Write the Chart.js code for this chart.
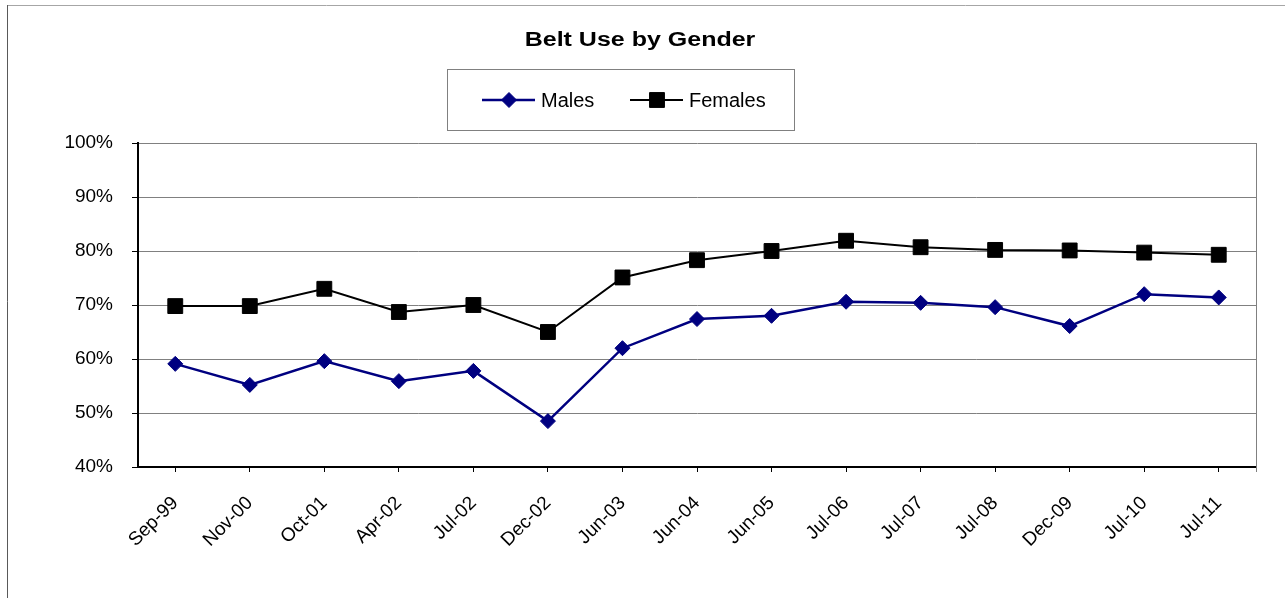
<!DOCTYPE html>
<html><head><meta charset="utf-8">
<script src="https://cdn.jsdelivr.net/npm/chart.js@4/dist/chart.umd.min.js"></script>
<style>html,body{margin:0;padding:0;background:#fff}#wrap{width:1285px;height:598px;position:relative}</style>
</head><body><div id="wrap"><canvas id="c"></canvas></div>
<script>
const categories = ['Sep-99','Nov-00','Oct-01','Apr-02','Jul-02','Dec-02','Jun-03','Jun-04','Jun-05','Jul-06','Jul-07','Jul-08','Dec-09','Jul-10','Jul-11'];
const males   = [59.1,55.2,59.6,55.9,57.8,48.5,62.0,67.4,68.0,70.6,70.4,69.6,66.1,72.0,71.4];
const females = [69.8,69.8,73.0,68.7,70.0,65.0,75.1,78.3,80.0,81.9,80.7,80.2,80.1,79.7,79.3];
const yTicks  = [40,50,60,70,80,90,100];
const chartTitle = 'Belt Use by Gender';
const seriesNames = ['Males','Females'];

const FONT = "'Liberation Sans', Arial, sans-serif";

const decor = {
  id: 'decor',
  beforeDraw(chart) {
    const ctx = chart.ctx;
    ctx.save();
    ctx.fillStyle = '#fff';
    ctx.fillRect(0, 0, chart.width, chart.height);
    ctx.lineWidth = 1;
    ctx.strokeStyle = '#a6a6a6';
    ctx.beginPath(); ctx.moveTo(7, 5.5); ctx.lineTo(chart.width, 5.5); ctx.stroke();
    ctx.strokeStyle = '#595959';
    ctx.beginPath(); ctx.moveTo(7.5, 5); ctx.lineTo(7.5, chart.height); ctx.stroke();
    ctx.restore();
  },
  afterDraw(chart) {
    const ctx = chart.ctx;
    const a = chart.chartArea;
    ctx.save();
    ctx.strokeStyle = '#808080';
    ctx.lineWidth = 1;
    ctx.beginPath();
    ctx.moveTo(a.right + 0.5, a.top);
    ctx.lineTo(a.right + 0.5, a.bottom + 5);
    ctx.stroke();
    // title (horizontally widened like the reference)
    ctx.save();
    ctx.fillStyle = '#000';
    ctx.font = 'bold 20px ' + FONT;
    ctx.textAlign = 'center';
    ctx.textBaseline = 'middle';
    ctx.translate(640, 40);
    ctx.scale(1.25, 1);
    ctx.fillText(chartTitle, 0, 0);
    ctx.restore();
    // legend box
    ctx.strokeStyle = '#808080';
    ctx.lineWidth = 1;
    ctx.strokeRect(447.5, 69.5, 347, 61);
    const xs = [482, 630];
    const ly = 100;
    chart.data.datasets.forEach((ds, i) => {
      const x = xs[i];
      ctx.strokeStyle = ds.borderColor;
      ctx.lineWidth = ds.borderWidth;
      ctx.beginPath(); ctx.moveTo(x, ly); ctx.lineTo(x + 53, ly); ctx.stroke();
      ctx.fillStyle = ds.pointBackgroundColor;
      ctx.strokeStyle = ds.pointBorderColor;
      ctx.lineWidth = 1;
      ctx.beginPath();
      const r = ds.pointRadius;
      if (ds.pointStyle === 'rectRot') {
        ctx.moveTo(x + 27, ly - r); ctx.lineTo(x + 27 + r, ly); ctx.lineTo(x + 27, ly + r); ctx.lineTo(x + 27 - r, ly); ctx.closePath();
      } else {
        const s = r * Math.SQRT1_2;
        ctx.rect(x + 27 - s, ly - s, 2 * s, 2 * s);
      }
      ctx.fill(); ctx.stroke();
      ctx.fillStyle = '#000';
      ctx.font = '20px ' + FONT;
      ctx.textAlign = 'left';
      ctx.textBaseline = 'middle';
      ctx.fillText(ds.label, x + 59, ly + 1);
    });
    ctx.restore();
  }
};

new Chart(document.getElementById('c'), {
  type: 'line',
  data: {
    labels: categories,
    datasets: [
      {
        label: seriesNames[0], data: males,
        borderColor: '#000080', backgroundColor: '#000080', borderWidth: 2.5,
        pointStyle: 'rectRot', pointRadius: 7.5, pointBackgroundColor: '#000080', pointBorderColor: '#000080', pointBorderWidth: 1,
        tension: 0
      },
      {
        label: seriesNames[1], data: females,
        borderColor: '#000000', backgroundColor: '#000000', borderWidth: 2,
        pointStyle: 'rect', pointRadius: 10.5, pointBackgroundColor: '#000000', pointBorderColor: '#000000', pointBorderWidth: 1,
        tension: 0
      }
    ]
  },
  options: {
    responsive: true, maintainAspectRatio: false, animation: false, devicePixelRatio: 1,
    layout: { padding: { top: 143, right: 29, left: 0, bottom: 0 } },
    plugins: { legend: { display: false }, title: { display: false }, tooltip: { enabled: false } },
    scales: {
      x: {
        offset: true,
        afterFit(s) { s.height = 131; },
        grid: { drawOnChartArea: false, drawTicks: true, tickLength: 5, color: '#000', offset: false },
        border: { display: true, color: '#000', width: 2 },
        ticks: { color: '#000', font: { family: FONT, size: 19 }, minRotation: 45, maxRotation: 45, padding: 20, autoSkip: false }
      },
      y: {
        min: 40, max: 100,
        afterFit(s) { s.width = 138; },
        afterBuildTicks(s) { s.ticks = yTicks.map(v => ({ value: v })); },
        grid: { color: '#808080', lineWidth: 1, drawTicks: true, tickLength: 6, tickColor: '#000' },
        border: { display: true, color: '#000', width: 2 },
        ticks: { color: '#000', font: { family: FONT, size: 19 }, padding: 19, callback: v => v + '%' }
      }
    }
  },
  plugins: [decor]
});
</script></body></html>
